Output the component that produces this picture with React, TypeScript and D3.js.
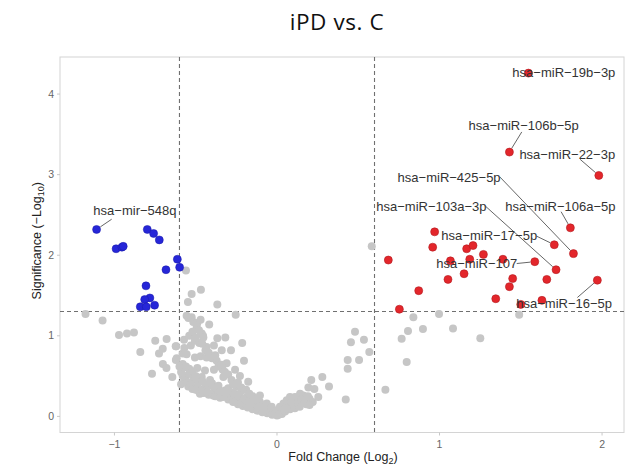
import React from "react";
import * as d3 from "d3";

// ---------- data (log2 fold change, -log10 p) ----------
const xTicks = [-1, 0, 1, 2];
const yTicks = [0, 1, 2, 3, 4];
const fcCut = 0.6;
const pCut = 1.301;

const grayPoints: [number, number][] = [
  [-1.178, 1.27], [-1.073, 1.19], [-0.972, 1.01], [-0.923, 1.03], [-0.88, 1.04], [-0.841, 0.8],
  [-0.769, 0.53], [-0.749, 0.94], [-0.703, 0.84], [-0.726, 0.78], [-0.679, 0.96], [-0.702, 0.65],
  [-0.68, 0.6], [-0.644, 0.49], [-0.623, 0.87], [-0.617, 0.72], [-0.56, 1.81], [-0.525, 1.52],
  [-0.468, 1.57], [-0.548, 1.42], [-0.367, 1.39], [-0.254, 1.26],
  [-0.556, 1.25], [-0.545, 1.22], [-0.525, 1.23], [-0.515, 1.17], [-0.49, 1.16], [-0.47, 1.2],
  [-0.417, 1.14], [-0.494, 1.11], [-0.48, 1.07], [-0.463, 1.03], [-0.455, 1.0], [-0.572, 0.95],
  [-0.505, 0.94], [-0.453, 0.98], [-0.367, 0.97], [-0.318, 0.98], [-0.214, 0.91], [-0.62, 0.87],
  [-0.478, 0.91], [-0.433, 0.86], [-0.388, 0.88], [-0.34, 0.82], [-0.283, 0.82], [-0.622, 0.7],
  [-0.556, 0.77], [-0.505, 0.73], [-0.47, 0.745], [-0.433, 0.73], [-0.371, 0.69], [-0.31, 0.66],
  [-0.203, 0.69], [-0.577, 0.6], [-0.54, 0.59], [-0.49, 0.6], [-0.443, 0.57], [-0.388, 0.58],
  [-0.334, 0.58], [-0.258, 0.58], [-0.56, 0.5], [-0.515, 0.455], [-0.463, 0.49], [-0.412, 0.45],
  [-0.33, 0.49], [-0.228, 0.5], [-0.177, 0.43], [-0.546, 0.37], [-0.494, 0.37], [-0.437, 0.36],
  [-0.382, 0.33], [-0.32, 0.32], [-0.248, 0.37], [-0.217, 0.32], [-0.474, 0.28], [-0.392, 0.26],
  [-0.31, 0.25], [-0.258, 0.23], [-0.186, 0.24], [-0.156, 0.2], [-0.105, 0.26], [-0.105, 0.18],
  [-0.063, 0.16], [-0.033, 0.12], [-0.002, 0.075], [0.029, 0.08],
  [-0.59, 0.55], [-0.58, 0.5], [-0.57, 0.45], [-0.55, 0.42], [-0.53, 0.4], [-0.52, 0.34],
  [-0.5, 0.33], [-0.48, 0.31], [-0.46, 0.33], [-0.45, 0.29], [-0.43, 0.3], [-0.42, 0.27],
  [-0.4, 0.29], [-0.38, 0.25], [-0.36, 0.27], [-0.35, 0.23], [-0.33, 0.24], [-0.3, 0.21],
  [-0.28, 0.22], [-0.27, 0.18], [-0.25, 0.19], [-0.24, 0.15], [-0.22, 0.17], [-0.21, 0.13],
  [-0.19, 0.15], [-0.18, 0.11], [-0.16, 0.13], [-0.15, 0.09], [-0.13, 0.11], [-0.12, 0.07],
  [-0.1, 0.09], [-0.09, 0.05], [-0.07, 0.07], [-0.06, 0.04], [-0.04, 0.05], [-0.03, 0.02],
  [-0.01, 0.03], [0.0, 0.01],
  [-0.58, 0.65], [-0.56, 0.62], [-0.54, 0.53], [-0.52, 0.56], [-0.5, 0.5], [-0.48, 0.42],
  [-0.46, 0.44], [-0.44, 0.4], [-0.42, 0.38], [-0.4, 0.41], [-0.38, 0.36], [-0.36, 0.38],
  [-0.35, 0.31], [-0.3, 0.35], [-0.29, 0.29], [-0.27, 0.3], [-0.26, 0.27], [-0.24, 0.25],
  [-0.23, 0.28], [-0.2, 0.22], [-0.19, 0.2], [-0.17, 0.18], [-0.14, 0.16], [-0.12, 0.14],
  [-0.11, 0.12], [-0.08, 0.11], [-0.58, 0.78], [-0.57, 0.85], [-0.53, 0.88], [-0.54, 1.0],
  [-0.52, 1.05], [-0.5, 0.98], [-0.46, 0.9], [-0.44, 0.82], [-0.42, 0.79], [-0.4, 0.72],
  [-0.38, 0.76], [-0.36, 0.62], [-0.34, 0.64], [-0.32, 0.55], [-0.3, 0.52], [-0.28, 0.45],
  [-0.27, 0.4], [-0.24, 0.42], [-0.22, 0.36], [-0.19, 0.33], [-0.17, 0.28], [-0.15, 0.25],
  [-0.13, 0.21], [-0.59, 0.4], [-0.6, 0.62],
  [0.01, 0.02], [0.02, 0.06], [0.03, 0.03], [0.04, 0.1], [0.05, 0.06], [0.07, 0.12], [0.08, 0.09],
  [0.1, 0.14], [0.11, 0.1], [0.13, 0.16], [0.14, 0.12], [0.16, 0.19], [0.18, 0.15], [0.2, 0.22],
  [0.22, 0.18], [0.018, 0.12], [0.04, 0.16], [0.05, 0.095], [0.06, 0.2], [0.08, 0.24], [0.09, 0.18],
  [0.111, 0.24], [0.13, 0.18], [0.142, 0.28], [0.162, 0.26], [0.172, 0.21], [0.193, 0.36],
  [0.211, 0.45], [0.23, 0.34], [0.254, 0.24], [0.279, 0.49], [0.32, 0.37], [0.15, 0.2], [0.17, 0.17],
  [0.19, 0.25], [0.2, 0.14], [0.423, 0.21], [0.435, 0.59], [0.435, 0.7], [0.505, 0.7], [0.568, 0.8],
  [0.455, 0.92], [0.535, 0.95], [0.48, 1.05], [0.667, 0.33], [0.583, 2.11], [0.839, 1.23],
  [0.997, 1.27], [1.49, 1.26], [0.767, 0.965], [0.806, 1.06], [0.898, 1.085], [1.083, 1.09],
  [1.251, 0.97], [0.798, 0.675],
];

const downPoints: [number, number][] = [
  [-1.11, 2.32], [-0.99, 2.08], [-0.954, 2.1], [-0.946, 2.11], [-0.798, 2.32], [-0.759, 2.27],
  [-0.724, 2.19], [-0.613, 1.95], [-0.599, 1.85], [-0.683, 1.82], [-0.806, 1.62], [-0.782, 1.47],
  [-0.814, 1.45], [-0.841, 1.36], [-0.804, 1.36], [-0.753, 1.38],
];

const upPoints: [number, number][] = [
  [1.547, 4.26], [1.43, 3.28], [1.98, 2.99], [1.805, 2.34], [1.706, 2.13], [1.824, 2.02],
  [1.586, 1.92], [1.717, 1.82], [1.971, 1.69],
  [0.97, 2.29], [0.958, 2.1], [1.167, 2.08], [1.206, 2.12], [1.27, 2.01], [0.685, 1.94],
  [1.067, 1.93], [1.186, 1.95], [1.151, 1.77], [1.052, 1.7], [0.872, 1.56], [1.346, 1.46],
  [0.753, 1.33], [1.39, 1.95], [1.45, 1.71], [1.66, 1.7], [1.43, 1.61], [1.63, 1.44], [1.5, 1.39],
];

const labelNames = [
  "hsa−miR−19b−3p", "hsa−miR−106b−5p", "hsa−miR−22−3p", "hsa−miR−425−5p", "hsa−miR−103a−3p",
  "hsa−miR−106a−5p", "hsa−miR−17−5p", "hsa−miR−107", "hsa−miR−16−5p", "hsa−mir−548q",
];
const labelTargets: [number, number][] = [
  [1.547, 4.26], [1.43, 3.28], [1.98, 2.99], [1.824, 2.02], [1.717, 1.82],
  [1.805, 2.34], [1.706, 2.13], [1.586, 1.92], [1.971, 1.69], [-1.11, 2.32],
];
// repelled label centres and segment starts (data units)
const labelCentres: [number, number][] = [
  [1.765, 4.27], [1.518, 3.606], [1.786, 3.25], [1.059, 2.969], [0.95, 2.61],
  [1.744, 2.61], [1.306, 2.24], [1.229, 1.897], [1.767, 1.4], [-0.874, 2.56],
];
const segmentStarts: ([number, number] | null)[] = [
  null, [1.506, 3.53], [1.865, 3.19], [1.372, 2.97], [1.282, 2.61],
  [1.748, 2.54], [1.598, 2.236], [1.475, 1.897], [1.848, 1.475], [-1.017, 2.447],
];

const W = 625;
const H = 465;

export default function App() {
  const x = d3.scaleLinear().domain([-1.335, 2.135]).range([60, 624]);
  const y = d3.scaleLinear().domain([-0.2, 4.46]).range([432.5, 57]);
  const [x0, x1] = x.range();
  const [y0, y1] = y.range();
  const r = 4;
  const axisFont = "'Liberation Sans', Arial, Helvetica, sans-serif";

  return (
    <div style={{ position: "absolute", left: 0, top: 0 }}>
      <svg width={W} height={H} style={{ display: "block", background: "#fff" }}>
        <text x={337} y={30} textAnchor="middle" fontFamily="'Open Sans', sans-serif" fontSize={22.5}
          fill="#111" letterSpacing={0.6}>iPD vs. C</text>

        {/* panel */}
        <rect x={x0} y={y1} width={x1 - x0} height={y0 - y1} fill="#fff" stroke="#d4d4d4" strokeWidth={1} />

        {/* ticks */}
        {xTicks.map((t) => (
          <g key={"xt" + t}>
            <line x1={x(t)} x2={x(t)} y1={y0} y2={y0 + 3} stroke="#c8c8c8" />
            <text x={x(t)} y={y0 + 15} textAnchor="middle" fontFamily={axisFont} fontSize={10.5} fill="#666">
              {t < 0 ? "−" + Math.abs(t) : t}
            </text>
          </g>
        ))}
        {yTicks.map((t) => (
          <g key={"yt" + t}>
            <line x1={x0 - 3} x2={x0} y1={y(t)} y2={y(t)} stroke="#c8c8c8" />
            <text x={x0 - 6} y={y(t)} dy="0.35em" textAnchor="end" fontFamily={axisFont} fontSize={10.5} fill="#666">
              {t}
            </text>
          </g>
        ))}

        {/* axis titles */}
        <text x={343} y={461} textAnchor="middle" fontFamily={axisFont} fontSize={12.5} fill="#222">
          Fold Change (Log<tspan fontSize={9} dy={3}>2</tspan><tspan dy={-3}>)</tspan>
        </text>
        <text transform={`translate(41,${(y0 + y1) / 2 - 4}) rotate(-90)`} textAnchor="middle"
          fontFamily={axisFont} fontSize={12.5} fill="#222">
          Significance (−Log<tspan fontSize={9} dy={3}>10</tspan><tspan dy={-3}>)</tspan>
        </text>

        {/* threshold lines */}
        {[-fcCut, fcCut].map((v) => (
          <line key={"v" + v} x1={x(v)} x2={x(v)} y1={y1} y2={y0} stroke="#707070" strokeWidth={1.1} strokeDasharray="4,3" />
        ))}
        <line x1={x0} x2={x1} y1={y(pCut)} y2={y(pCut)} stroke="#707070" strokeWidth={1.1} strokeDasharray="4,3" />

        {/* points */}
        {grayPoints.map((d, i) => (
          <circle key={"g" + i} cx={x(d[0])} cy={y(d[1])} r={r} fill="#c6c6c6" />
        ))}
        {downPoints.map((d, i) => (
          <circle key={"b" + i} cx={x(d[0])} cy={y(d[1])} r={r} fill="#2626d8" stroke="#1a1aa8" strokeWidth={0.5} />
        ))}
        {upPoints.map((d, i) => (
          <circle key={"r" + i} cx={x(d[0])} cy={y(d[1])} r={r} fill="#e3262b" stroke="#b31b20" strokeWidth={0.6} />
        ))}

        {/* label segments */}
        {labelNames.map((n, i) => {
          const s = segmentStarts[i];
          if (!s) return null;
          const sx = x(s[0]), sy = y(s[1]);
          const tx = x(labelTargets[i][0]), ty = y(labelTargets[i][1]);
          const len = Math.hypot(tx - sx, ty - sy);
          const ex = tx - ((tx - sx) / len) * (r + 0.5);
          const ey = ty - ((ty - sy) / len) * (r + 0.5);
          return <line key={"s" + i} x1={sx} y1={sy} x2={ex} y2={ey} stroke="#555" strokeWidth={0.9} />;
        })}
        {/* labels */}
        {labelNames.map((n, i) => (
          <text key={"l" + i} x={x(labelCentres[i][0])} y={y(labelCentres[i][1])} dy="0.35em" textAnchor="middle"
            fontFamily={axisFont} fontSize={13} fill="#333">
            {n}
          </text>
        ))}
      </svg>
    </div>
  );
}
